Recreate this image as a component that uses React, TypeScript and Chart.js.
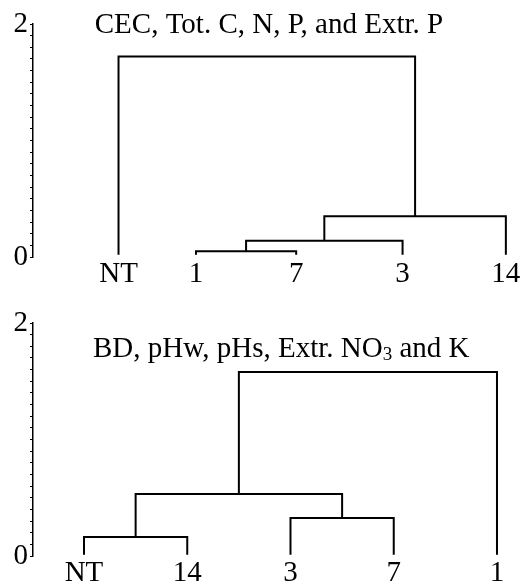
import React, { useEffect, useRef } from "react";
import { Chart, registerables } from "chart.js";

Chart.register(...registerables);

// ---------- data ----------
const topLeaves = ["NT", "1", "7", "3", "14"];
const topLeafX = [0.25, 1, 1.97, 3, 4];
// merges: [leftNode, rightNode, height]; leaves are nodes 0..4, merged clusters 5..
const topMerges: [number, number, number][] = [
  [1, 2, 0.05],
  [5, 3, 0.14],
  [6, 4, 0.35],
  [0, 7, 1.72],
];
const topLeafBase = 0.02;
const topTitleParts = [{ text: "CEC, Tot. C, N, P, and Extr. P", sub: false }];

const bottomLeaves = ["NT", "14", "3", "7", "1"];
const bottomLeafX = [0, 1, 2, 3, 4];
const bottomMerges: [number, number, number][] = [
  [0, 1, 0.163],
  [2, 3, 0.326],
  [5, 6, 0.532],
  [7, 4, 1.58],
];
const bottomLeafBase = 0.01;
const bottomTitleParts = [
  { text: "BD, pHw, pHs, Extr. NO", sub: false },
  { text: "3", sub: true },
  { text: " and K", sub: false },
];

const yMin = 0;
const yMax = 2;
const yMinorStep = 0.1;
const yLabelValues = [0, 2];

// ---------- helpers ----------
const FONT = "'Liberation Serif', 'Times New Roman', serif";
const FS = 29;

function buildSegments(leafX: number[], merges: [number, number, number][], base: number) {
  const xs = [...leafX];
  const hs = leafX.map(() => base);
  const segs: { x: number; y: number }[][] = [];
  merges.forEach(([a, b, h]) => {
    segs.push([
      { x: xs[a], y: hs[a] },
      { x: xs[a], y: h },
      { x: xs[b], y: h },
      { x: xs[b], y: hs[b] },
    ]);
    xs.push((xs[a] + xs[b]) / 2);
    hs.push(h);
  });
  return segs;
}

type Part = { text: string; sub: boolean };

interface PanelProps {
  leaves: string[];
  leafX: number[];
  merges: [number, number, number][];
  base: number;
  titleParts: Part[];
  titleAt: { x: number; y: number };
  xMin: number;
  xMax: number;
  height: number;
  padTop: number;
  xAxisHeight: number;
}

function Panel(p: PanelProps) {
  const ref = useRef<HTMLCanvasElement | null>(null);
  useEffect(() => {
    if (!ref.current) return;
    const segs = buildSegments(p.leafX, p.merges, p.base);
    const titlePlugin = {
      id: "panelTitle",
      afterDraw(chart: any) {
        const ctx = chart.ctx;
        const px = chart.scales.x.getPixelForValue(p.titleAt.x);
        const py = chart.scales.y.getPixelForValue(p.titleAt.y);
        ctx.save();
        ctx.fillStyle = "#000";
        ctx.textBaseline = "alphabetic";
        ctx.textAlign = "left";
        let cx = px;
        p.titleParts.forEach((part) => {
          ctx.font = part.sub ? `19px ${FONT}` : `${FS}px ${FONT}`;
          ctx.fillText(part.text, cx, part.sub ? py + 3 : py);
          cx += ctx.measureText(part.text).width;
        });
        ctx.restore();
      },
    };
    const chart = new Chart(ref.current, {
      type: "scatter",
      data: {
        datasets: segs.map((s) => ({
          data: s,
          showLine: true,
          borderColor: "#000",
          borderWidth: 2,
          pointRadius: 0,
          pointHoverRadius: 0,
          fill: false,
          tension: 0,
        })),
      },
      options: {
        animation: false,
        responsive: false,
        maintainAspectRatio: false,
        layout: { padding: { top: p.padTop, left: 0, right: 0, bottom: 0 } },
        plugins: { legend: { display: false }, tooltip: { enabled: false }, title: { display: false } },
        scales: {
          x: {
            type: "linear",
            min: p.xMin,
            max: p.xMax,
            grid: { display: false },
            border: { display: false },
            afterBuildTicks: (scale: any) => {
              scale.ticks = p.leafX.map((v) => ({ value: v }));
            },
            afterFit: (scale: any) => {
              scale.height = p.xAxisHeight;
              scale.paddingLeft = 0;
              scale.paddingRight = 0;
            },
            ticks: {
              autoSkip: false,
              maxRotation: 0,
              padding: -8,
              color: "#000",
              font: { family: FONT, size: FS },
              callback: (_v: any, i: number) => p.leaves[i],
            },
          },
          y: {
            type: "linear",
            min: yMin,
            max: yMax,
            afterFit: (scale: any) => {
              scale.width = 33;
            },
            grid: {
              display: true,
              drawOnChartArea: false,
              drawTicks: true,
              tickLength: 3,
              color: "#000",
              lineWidth: 1,
            },
            border: { display: true, color: "#000", width: 1.5 },
            ticks: {
              stepSize: yMinorStep,
              maxTicksLimit: 100,
              autoSkip: false,
              padding: 2,
              color: "#000",
              font: { family: FONT, size: FS },
              callback: (v: any) => {
                const n = Number(v);
                const hit = yLabelValues.find((l) => Math.abs(l - n) < 1e-9);
                return hit !== undefined ? String(hit) : "";
              },
            },
          },
        },
      } as any,
      plugins: [titlePlugin],
    });
    return () => chart.destroy();
  }, []);
  return (
    <canvas
      ref={ref}
      width={523}
      height={p.height}
      style={{ display: "block", width: 523, height: p.height }}
    />
  );
}

export default function App() {
  return (
    <div style={{ position: "absolute", left: 0, top: 0, width: 523, height: 583, background: "#fff" }}>
      <Panel
        leaves={topLeaves}
        leafX={topLeafX}
        merges={topMerges}
        base={topLeafBase}
        titleParts={topTitleParts}
        titleAt={{ x: 0.02, y: 1.92 }}
        xMin={-0.578}
        xMax={4.166}
        height={290}
        padTop={24}
        xAxisHeight={33}
      />
      <Panel
        leaves={bottomLeaves}
        leafX={bottomLeafX}
        merges={bottomMerges}
        base={bottomLeafBase}
        titleParts={bottomTitleParts}
        titleAt={{ x: 0.087, y: 1.71 }}
        xMin={-0.494}
        xMax={4.252}
        height={293}
        padTop={33}
        xAxisHeight={27}
      />
    </div>
  );
}
